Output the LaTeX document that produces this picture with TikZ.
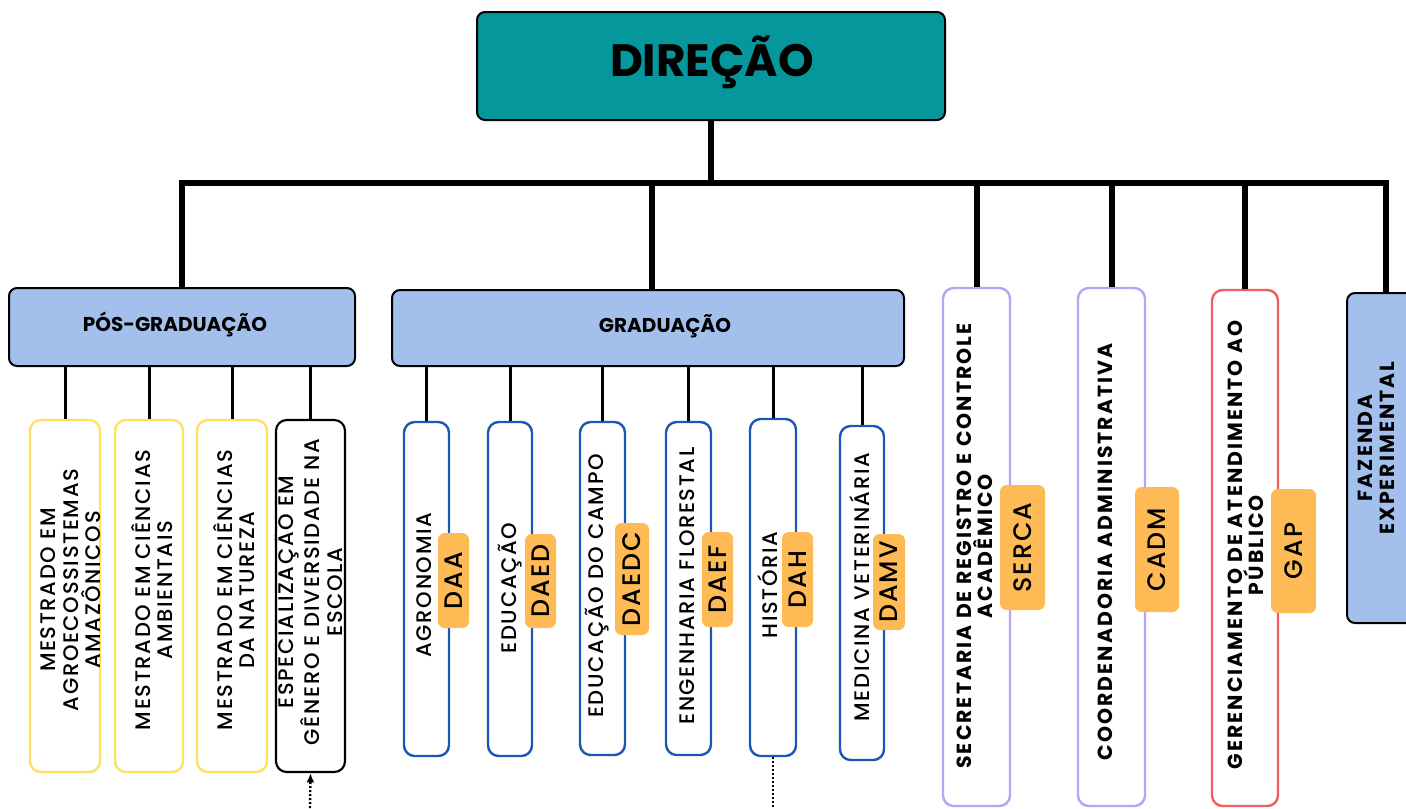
\documentclass[tikz,border=0pt]{standalone}
\usepackage{fontspec}
\setmainfont{Poppins}
\newfontfamily\regf[LetterSpace=8,UprightFont=* Medium]{Poppins}
\newfontfamily\boldf[LetterSpace=10]{Poppins}
\newfontfamily\tagf[LetterSpace=8,UprightFont=* Medium]{Poppins}
\usetikzlibrary{arrows.meta}
\definecolor{teal1}{HTML}{05979C}
\definecolor{lblue}{HTML}{A2C0EB}
\definecolor{ybord}{HTML}{FFE066}
\definecolor{bbord}{HTML}{1A58B8}
\definecolor{pbord}{HTML}{BCA2F6}
\definecolor{rbord}{HTML}{F25E5E}
\definecolor{otag}{HTML}{FDBA55}
\begin{document}
\begin{tikzpicture}[x=0.75pt,y=-0.75pt,
  mainbox/.style={draw=black,line width=1.5pt,fill=teal1,rounded corners=6pt,inner sep=0pt},
  grpbox/.style={draw=black,line width=1.5pt,fill=lblue,rounded corners=6pt,inner sep=0pt},
  ybox/.style={draw=ybord,line width=1.8pt,fill=white,rounded corners=8pt,inner sep=0pt},
  kbox/.style={draw=black,line width=1.6pt,fill=white,rounded corners=8pt,inner sep=0pt},
  bbox/.style={draw=bbord,line width=1.8pt,fill=white,rounded corners=8pt,inner sep=0pt},
  pbox/.style={draw=pbord,line width=1.8pt,fill=white,rounded corners=8pt,inner sep=0pt},
  rbox/.style={draw=rbord,line width=1.8pt,fill=white,rounded corners=8pt,inner sep=0pt},
  tagbox/.style={fill=otag,rounded corners=5pt,inner sep=0pt,rotate=90,font=\tagf\fontsize{19}{21}\selectfont},
  rtxt/.style={rotate=90,align=center,inner sep=0pt,font=\regf\fontsize{15.8}{16.9}\selectfont},
  btxt/.style={rotate=90,align=center,inner sep=0pt,font=\boldf\bfseries\fontsize{15.3}{15.5}\selectfont},
  conn/.style={line width=2.25pt},
  bus/.style={line width=4.5pt}
]
\useasboundingbox (0,0) rectangle (1406,808);

% top
\node[mainbox,minimum width=351pt,minimum height=81pt] (dir) at (711,66) {};
\node[font=\bfseries\fontsize{34}{36}\selectfont,inner sep=0pt] (dirt) at (712,62) {DIREÇÃO};
\coordinate (busc) at (711,183);

% groups
\node[grpbox,minimum width=259.5pt,minimum height=58.5pt] (pos) at (182,327) {};
\node[font=\bfseries\fontsize{15}{17}\selectfont,inner sep=0pt] (post) at (175,324) {PÓS-GRADUAÇÃO};
\node[grpbox,minimum width=384pt,minimum height=57pt] (grad) at (648,328) {};
\node[font=\bfseries\fontsize{15}{17}\selectfont,inner sep=0pt] (gradt) at (665,326) {GRADUAÇÃO};

% right boxes
\node[pbox,minimum width=50.25pt,minimum height=388.5pt] (r1) at (976.5,547) {};
\node[pbox,minimum width=50.25pt,minimum height=388.5pt] (r2) at (1111.5,547) {};
\node[rbox,minimum width=49.5pt,minimum height=387pt] (r3) at (1245,548) {};
\node[grpbox,minimum width=58.5pt,minimum height=247.5pt] (r4) at (1386,458) {};

% bus
\draw[bus] (dir.south) -- (busc);
\draw[bus,line join=miter] (pos.north) |- (busc) -| (r4.north);
\draw[bus] ([xshift=3pt]grad.north) -- ([xshift=3pt]grad.north |- busc);
\draw[bus] (r1.north) -- (r1.north |- busc);
\draw[bus] (r2.north) -- (r2.north |- busc);
\draw[bus] (r3.north) -- (r3.north |- busc);

% pos children
\node[ybox,minimum width=52.5pt,minimum height=264pt] (p1) at (65,596) {};
\node[ybox,minimum width=51pt,minimum height=264pt] (p2) at (149,596) {};
\node[ybox,minimum width=52.5pt,minimum height=264pt] (p3) at (232,596) {};
\node[kbox,minimum width=51.75pt,minimum height=264pt] (p4) at (310.5,596) {};
\foreach \n in {p1,p2,p3,p4} \draw[conn] (\n.north) -- (\n.north |- pos.south);
\node[rtxt] (p1t) at (71,590) {MESTRADO EM\\AGROECOSSISTEMAS\\AMAZÔNICOS};
\node[rtxt] (p2t) at (152,590) {MESTRADO EM CIÊNCIAS\\AMBIENTAIS};
\node[rtxt] (p3t) at (234,590) {MESTRADO EM CIÊNCIAS\\DA NATUREZA};
\node[rtxt] (p4t) at (309,592) {ESPECIALIZAÇÃO EM\\GÊNERO E DIVERSIDADE NA\\ESCOLA};

% grad children
\node[bbox,minimum width=33.75pt,minimum height=250.5pt] (g1) at (426.5,589) {};
\node[bbox,minimum width=33pt,minimum height=250.5pt] (g2) at (510,589) {};
\node[bbox,minimum width=33.75pt,minimum height=249.75pt] (g3) at (602.5,588.5) {};
\node[bbox,minimum width=33.75pt,minimum height=249.75pt] (g4) at (688.5,588.5) {};
\node[bbox,minimum width=34.5pt,minimum height=252.75pt] (g5) at (773,587.5) {};
\node[bbox,minimum width=33pt,minimum height=250.5pt] (g6) at (862,593) {};
\foreach \n in {g1,g2,g3,g4,g5,g6} \draw[conn] (\n.north) -- (\n.north |- grad.south);
\node[rtxt] (g1t) at (424,585) {AGRONOMIA};
\node[rtxt] (g2t) at (510,588) {EDUCAÇÃO};
\node[rtxt] (g3t) at (597,586) {EDUCAÇÃO DO CAMPO};
\node[rtxt] (g4t) at (687,586) {ENGENHARIA FLORESTAL};
\node[rtxt] (g5t) at (768,585) {HISTÓRIA};
\node[rtxt] (g6t) at (860,587) {MEDICINA VETERINÁRIA};

% tags
\node[tagbox,minimum width=71.25pt,minimum height=23.25pt] (t1) at (453.5,580.5) {DAA};
\node[tagbox,minimum width=70.5pt,minimum height=23.25pt] (t2) at (540.5,581) {DAED};
\node[tagbox,minimum width=84pt,minimum height=25.5pt] (t3) at (632,579) {DAEDC};
\node[tagbox,minimum width=71.25pt,minimum height=23.25pt] (t4) at (717.5,579.5) {DAEF};
\node[tagbox,minimum width=71.25pt,minimum height=23.25pt] (t5) at (797.5,579.5) {DAH};
\node[tagbox,minimum width=72pt,minimum height=24pt] (t6) at (889,582) {DAMV};

% right texts
\node[btxt] (r1t) at (975,546) {SECRETARIA DE REGISTRO E CONTROLE\\ACADÊMICO};
\node[btxt] (r2t) at (1105,552) {COORDENADORIA ADMINISTRATIVA};
\node[btxt] (r3t) at (1246,545) {GERENCIAMENTO DE ATENDIMENTO AO\\PÚBLICO};
\node[btxt,font=\boldf\bfseries\fontsize{15.3}{16.5}\selectfont] (r4t) at (1376,448) {FAZENDA\\EXPERIMENTAL};
\node[tagbox,minimum width=93.75pt,minimum height=33.75pt] (t7) at (1022.5,547.5) {SERCA};
\node[tagbox,minimum width=93.75pt,minimum height=33pt] (t8) at (1157,549.5) {CADM};
\node[tagbox,minimum width=93pt,minimum height=33.75pt] (t9) at (1293.5,551) {GAP};

% dotted
\coordinate (d1) at (310,808);
\coordinate (d2) at (773,808);
\draw[line width=1.8pt,dash pattern=on 1.5pt off 1.5pt,-{Latex[length=7pt,width=6pt]}] (d1) -- (p4.south);
\draw[line width=1.8pt,dash pattern=on 1.5pt off 1.5pt] (g5.south) -- (d2);
\end{tikzpicture}
\end{document}
